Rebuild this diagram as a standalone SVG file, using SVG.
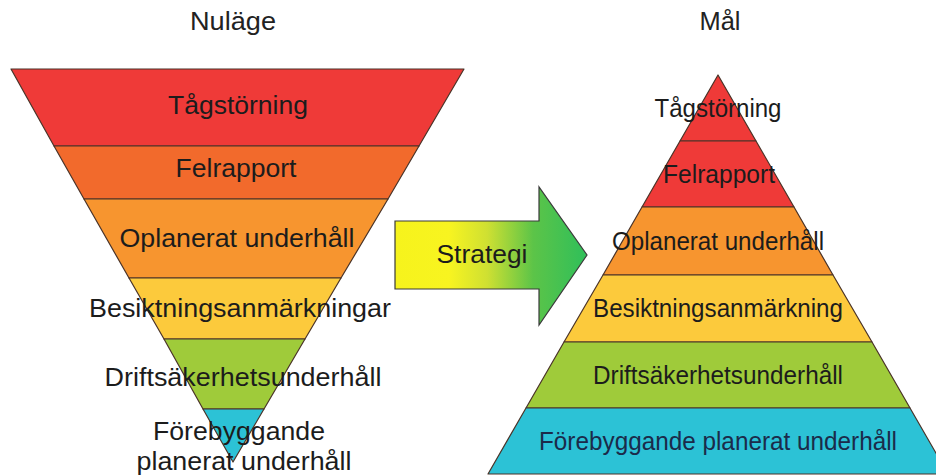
<svg xmlns="http://www.w3.org/2000/svg" width="936" height="475" viewBox="0 0 936 475">
<defs>
<linearGradient id="arrowGrad" x1="395" y1="0" x2="587" y2="0" gradientUnits="userSpaceOnUse">
<stop offset="0" stop-color="#f6f31c"/>
<stop offset="0.28" stop-color="#f8f420"/>
<stop offset="0.48" stop-color="#cfe032"/>
<stop offset="0.72" stop-color="#5cc448"/>
<stop offset="1" stop-color="#2fbf5a"/>
</linearGradient>
<style>
.band{stroke:#4a3328;stroke-width:1.2;stroke-linejoin:round}
.t{font-family:"Liberation Sans",Arial,sans-serif;font-size:25px;fill:#1c1c1c;text-anchor:middle}
.h{font-family:"Liberation Sans",Arial,sans-serif;font-size:25px;fill:#222;text-anchor:middle}
.red{fill:#ef3a38}
.redorange{fill:#f26a2c}
.orange{fill:#f7952f}
.yellow{fill:#fcca3c}
.green{fill:#9fcb3a}
.cyan{fill:#2cc2d6}
</style>
</defs>
<rect width="936" height="475" fill="#ffffff"/>

<g id="title-nulage"><text class="h" x="233" y="30" textLength="86" lengthAdjust="spacingAndGlyphs">Nuläge</text></g>
<g id="title-mal"><text class="h" x="720" y="30" textLength="41" lengthAdjust="spacingAndGlyphs">Mål</text></g>

<!-- Left inverted pyramid -->
<g id="left-tagstorning"><polygon class="band red" points="11,69 464,69 419,146 54,146"/></g>
<g id="left-felrapport"><polygon class="band redorange" points="54,146 419,146 388,199 84,199"/></g>
<g id="left-oplanerat"><polygon class="band orange" points="84,199 388,199 341,278 129,278"/></g>
<g id="left-besiktning"><polygon class="band yellow" points="129,278 341,278 305,339 164,339"/></g>
<g id="left-drift"><polygon class="band green" points="164,339 305,339 264,409 203,409"/></g>
<g id="left-forebyggande"><polygon class="band cyan" points="203,409 264,409 233,462"/></g>

<g id="left-labels">
<text class="t" x="238" y="114" textLength="140" lengthAdjust="spacingAndGlyphs">Tågstörning</text>
<text class="t" x="236" y="177" textLength="121" lengthAdjust="spacingAndGlyphs">Felrapport</text>
<text class="t" x="237" y="247" textLength="235" lengthAdjust="spacingAndGlyphs">Oplanerat underhåll</text>
<text class="t" x="240" y="317" textLength="302" lengthAdjust="spacingAndGlyphs">Besiktningsanmärkningar</text>
<text class="t" x="243" y="386" textLength="277" lengthAdjust="spacingAndGlyphs">Driftsäkerhetsunderhåll</text>
<text class="t" x="239" y="440" textLength="172" lengthAdjust="spacingAndGlyphs">Förebyggande</text>
<text class="t" x="244" y="470" textLength="215" lengthAdjust="spacingAndGlyphs">planerat underhåll</text>
</g>

<!-- Arrow -->
<g id="strategi-arrow">
<polygon points="395,221 539,221 539,187 587,255 539,325 539,289 395,289" fill="url(#arrowGrad)" stroke="#3a3a3a" stroke-width="1.2" stroke-linejoin="miter"/>
<text class="t" x="482" y="263" textLength="91" lengthAdjust="spacingAndGlyphs">Strategi</text>
</g>

<!-- Right pyramid -->
<g id="right-tagstorning"><polygon class="band red" points="718,75 756,141 680,141"/></g>
<g id="right-felrapport"><polygon class="band red" points="680,141 756,141 794,207 642,207"/></g>
<g id="right-oplanerat"><polygon class="band orange" points="642,207 794,207 833,275 603,275"/></g>
<g id="right-besiktning"><polygon class="band yellow" points="603,275 833,275 872,342 564,342"/></g>
<g id="right-drift"><polygon class="band green" points="564,342 872,342 910,408 526,408"/></g>
<g id="right-forebyggande"><polygon class="band cyan" points="526,408 910,408 948,474 488,474"/></g>

<g id="right-labels">
<text class="t" x="718" y="117" textLength="127" lengthAdjust="spacingAndGlyphs">Tågstörning</text>
<text class="t" x="719" y="183" textLength="112" lengthAdjust="spacingAndGlyphs">Felrapport</text>
<text class="t" x="718" y="250" textLength="212" lengthAdjust="spacingAndGlyphs">Oplanerat underhåll</text>
<text class="t" x="718" y="317" textLength="250" lengthAdjust="spacingAndGlyphs">Besiktningsanmärkning</text>
<text class="t" x="718" y="384" textLength="250" lengthAdjust="spacingAndGlyphs">Driftsäkerhetsunderhåll</text>
<text class="t" x="718" y="450" textLength="358" lengthAdjust="spacingAndGlyphs" style="fill:#1b2b4a">Förebyggande planerat underhåll</text>
</g>
</svg>
